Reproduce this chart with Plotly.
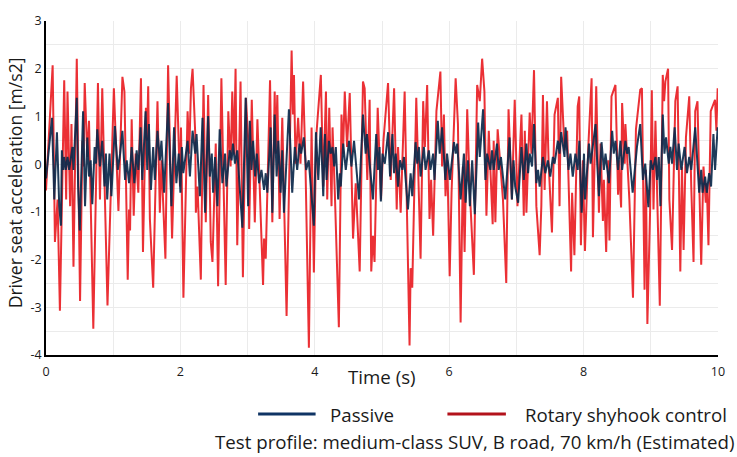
import plotly.graph_objects as go

# ---------------- data ----------------
# Rotary skyhook control: time (s) and driver seat acceleration (m/s2) at turning points
red_t = [0.000, 0.099, 0.133, 0.172, 0.207, 0.271, 0.300, 0.320, 0.359, 0.379, 0.409, 0.458, 0.507,
         0.542, 0.556, 0.576, 0.615, 0.640, 0.704, 0.773, 0.803, 0.837, 0.915, 1.010, 1.078, 1.137,
         1.167, 1.216, 1.236, 1.251, 1.275, 1.305, 1.334, 1.374, 1.413, 1.443, 1.487, 1.502, 1.521,
         1.546, 1.595, 1.659, 1.694, 1.718, 1.777, 1.817, 1.876, 1.945, 1.994, 2.009, 2.045, 2.107,
         2.132, 2.157, 2.181, 2.221, 2.230, 2.255, 2.304, 2.344, 2.378, 2.413, 2.452, 2.477, 2.526,
         2.561, 2.610, 2.674, 2.713, 2.747, 2.772, 2.797, 2.821, 2.846, 2.895, 2.930, 2.974, 3.013,
         3.023, 3.062, 3.107, 3.146, 3.230, 3.245, 3.270, 3.334, 3.368, 3.403, 3.420, 3.442, 3.476,
         3.516, 3.580, 3.655, 3.675, 3.690, 3.713, 3.752, 3.787, 3.826, 3.860, 3.912, 3.952, 3.986,
         4.020, 4.090, 4.126, 4.166, 4.185, 4.215, 4.249, 4.264, 4.298, 4.358, 4.397, 4.420, 4.446,
         4.480, 4.520, 4.569, 4.609, 4.668, 4.717, 4.742, 4.781, 4.816, 4.840, 4.865, 4.889, 4.936,
         4.985, 5.022, 5.090, 5.130, 5.180, 5.219, 5.239, 5.278, 5.337, 5.386, 5.410, 5.426, 5.450,
         5.510, 5.574, 5.613, 5.638, 5.672, 5.707, 5.731, 5.761, 5.810, 5.869, 5.894, 5.921, 5.945,
         5.972, 6.007, 6.035, 6.096, 6.130, 6.170, 6.204, 6.229, 6.268, 6.308, 6.367, 6.416, 6.455,
         6.490, 6.524, 6.554, 6.589, 6.647, 6.662, 6.687, 6.721, 6.800, 6.849, 6.883, 6.933, 6.975,
         7.016, 7.075, 7.110, 7.125, 7.149, 7.198, 7.223, 7.262, 7.297, 7.346, 7.371, 7.395, 7.420,
         7.455, 7.480, 7.529, 7.568, 7.617, 7.642, 7.666, 7.716, 7.755, 7.814, 7.829, 7.863, 7.912,
         7.935, 7.960, 7.989, 8.020, 8.070, 8.119, 8.139, 8.188, 8.228, 8.252, 8.287, 8.302, 8.336,
         8.366, 8.385, 8.415, 8.474, 8.513, 8.523, 8.558, 8.573, 8.612, 8.622, 8.681, 8.735, 8.779,
         8.843, 8.868, 8.892, 8.907, 8.927, 8.949, 8.990, 9.015, 9.040, 9.069, 9.134, 9.178, 9.198,
         9.217, 9.257, 9.276, 9.316, 9.365, 9.399, 9.439, 9.464, 9.488, 9.523, 9.572, 9.602, 9.636,
         9.661, 9.695, 9.720, 9.750, 9.784, 9.818, 9.833, 9.858, 9.892, 9.956, 9.976, 9.995, 10.000]
red_a = [-0.55, 2.07, -1.63, -0.74, -3.07, 1.76, -0.74, 1.52, -0.88, 0.84, -2.15, 2.21, -2.87,
         0.49, -0.05, 1.70, 0.15, 0.91, -3.45, 1.70, -0.74, 1.59, -2.96, 1.59, -0.98, 1.83,
         1.52, -2.42, -0.95, -1.39, 0.94, -1.08, 0.22, -0.60, 1.80, -1.84, 1.18, 0.49, 1.63,
         -1.15, -2.59, 1.32, -1.02, 0.08, -1.98, 2.07, -1.56, 1.85, -0.47, 0.77, -2.80, 1.11,
         0.22, 1.59, 2.00, 0.63, -1.02, -0.47, -2.42, 1.66, -1.22, 1.45, -1.63, -2.05, 0.43,
         -2.56, 1.80, -2.53, 1.11, -0.05, 1.52, 0.22, 2.00, -1.70, 1.73, -2.37, 1.39, 0.43,
         -1.36, 1.35, -1.22, 0.94, -2.53, -1.56, -1.98, 1.76, -1.22, 1.52, 0.22, 1.45, -1.15,
         0.97, -3.18, 2.38, 1.04, 1.87, 0.01, 0.97, 0.01, 1.73, 0.08, -3.85, 0.77, -2.27,
         0.55, 1.87, -0.47, 1.52, -0.74, 1.18, -0.88, 0.77, -0.60, -3.42, 1.04, 0.22, 1.52,
         0.36, 1.49, -1.56, -0.40, -2.25, 1.73, 1.59, -0.33, 1.35, -2.25, -1.50, -2.05, 1.18,
         -0.74, 0.50, 1.70, -0.33, 1.59, -0.95, 0.36, -1.02, 1.52, -2.39, -3.80, -2.18, -2.59,
         1.39, -1.98, 1.32, 0.36, 1.66, -1.15, -0.33, -1.50, 1.11, 1.94, -0.05, 1.04, -0.67,
         0.08, -2.35, -0.60, 1.80, 0.84, -3.32, -0.05, -1.84, 1.15, -0.60, -2.32, 1.66, 1.32,
         2.21, 1.52, -1.08, 0.70, -1.26, 0.49, -1.22, 0.73, -0.74, -2.49, 1.15, -0.74, 1.35,
         -0.88, 1.04, -1.08, 0.70, -1.02, 1.08, 0.22, 1.97, -0.88, -1.91, -0.88, 1.45, -0.54,
         1.32, 0.01, -1.43, 1.04, 1.39, -0.88, 1.83, 0.29, 0.70, -2.25, -0.60, -1.91, 1.21,
         1.42, -1.70, 0.08, -1.82, 0.36, 1.80, -1.53, 1.63, -1.02, 0.43, -1.19, -0.33, -1.84,
         0.08, -1.60, 1.42, 1.66, -0.64, 0.08, -0.91, 1.28, 0.01, 0.84, -0.74, -2.80, 0.73,
         1.56, 1.59, -0.60, -2.63, -0.12, -3.35, -0.95, 1.55, -0.95, 0.91, -2.97, 1.87, 1.32,
         1.73, 2.00, -0.74, -1.80, 1.32, 1.63, -2.25, -0.05, -1.80, 0.56, 1.42, -0.47, -2.05,
         1.11, 1.32, -0.33, -2.11, -0.05, -0.81, -0.40, -1.70, 1.11, 1.35, 0.70, 1.59, 1.20]

# Passive suspension: time (s) and driver seat acceleration (m/s2) at turning points
pas_t = [0.000, 0.089, 0.123, 0.163, 0.197, 0.222, 0.236, 0.256, 0.271, 0.295, 0.320, 0.345, 0.394,
         0.409, 0.458, 0.478, 0.502, 0.552, 0.581, 0.615, 0.640, 0.665, 0.689, 0.724, 0.744, 0.763,
         0.803, 0.837, 0.871, 0.891, 0.911, 0.945, 0.973, 0.999, 1.025, 1.068, 1.103, 1.137, 1.177,
         1.201, 1.236, 1.275, 1.315, 1.349, 1.374, 1.408, 1.433, 1.482, 1.507, 1.531, 1.561, 1.595,
         1.620, 1.659, 1.694, 1.718, 1.758, 1.817, 1.866, 1.906, 1.940, 1.975, 2.000, 2.022, 2.043,
         2.107, 2.142, 2.181, 2.221, 2.240, 2.290, 2.329, 2.368, 2.413, 2.438, 2.467, 2.487, 2.516,
         2.551, 2.585, 2.625, 2.664, 2.684, 2.733, 2.762, 2.782, 2.812, 2.846, 2.922, 2.972, 3.008,
         3.033, 3.057, 3.082, 3.112, 3.137, 3.171, 3.206, 3.245, 3.270, 3.294, 3.343, 3.368, 3.403,
         3.432, 3.457, 3.491, 3.516, 3.541, 3.615, 3.664, 3.703, 3.738, 3.772, 3.797, 3.836, 3.871,
         3.910, 3.986, 4.018, 4.052, 4.087, 4.126, 4.151, 4.175, 4.210, 4.235, 4.264, 4.289, 4.313,
         4.348, 4.372, 4.387, 4.422, 4.461, 4.510, 4.545, 4.584, 4.619, 4.658, 4.717, 4.757, 4.776,
         4.806, 4.865, 4.914, 4.939, 4.963, 4.983, 5.007, 5.042, 5.091, 5.120, 5.155, 5.180, 5.204,
         5.239, 5.268, 5.303, 5.327, 5.386, 5.426, 5.450, 5.500, 5.524, 5.549, 5.574, 5.623, 5.648,
         5.697, 5.721, 5.761, 5.781, 5.830, 5.859, 5.894, 5.943, 5.968, 6.010, 6.071, 6.096, 6.120,
         6.145, 6.170, 6.219, 6.244, 6.278, 6.308, 6.342, 6.381, 6.431, 6.455, 6.504, 6.539, 6.564,
         6.613, 6.637, 6.662, 6.711, 6.736, 6.770, 6.834, 6.898, 6.933, 6.957, 6.982, 7.026, 7.075,
         7.110, 7.149, 7.174, 7.198, 7.233, 7.262, 7.297, 7.322, 7.346, 7.395, 7.430, 7.469, 7.504,
         7.543, 7.568, 7.617, 7.642, 7.666, 7.716, 7.731, 7.775, 7.804, 7.839, 7.878, 7.912, 7.937,
         7.971, 8.006, 8.021, 8.080, 8.104, 8.178, 8.203, 8.228, 8.267, 8.302, 8.326, 8.376, 8.425,
         8.449, 8.474, 8.513, 8.548, 8.573, 8.622, 8.647, 8.671, 8.730, 8.794, 8.843, 8.883, 8.917,
         8.964, 8.998, 9.030, 9.070, 9.094, 9.119, 9.143, 9.178, 9.203, 9.227, 9.267, 9.291, 9.316,
         9.355, 9.390, 9.414, 9.454, 9.503, 9.538, 9.572, 9.602, 9.661, 9.685, 9.720, 9.750, 9.770,
         9.809, 9.833, 9.868, 9.897, 9.932, 9.956, 9.995, 10.000]
pas_a = [-0.30, 0.97, -0.74, 0.67, -0.88, -1.29, 0.29, -0.12, 0.15, -0.12, 0.15, -0.12, 0.36,
         -0.12, 1.39, -0.47, -1.39, 1.11, -0.88, 0.56, -0.26, 0.08, -0.84, 0.36, 0.01, 0.73,
         -0.05, 0.49, -0.47, 0.22, -0.74, 0.22, -0.67, 0.22, 0.80, -0.12, 0.22, 0.70, -0.33,
         0.08, -0.40, 0.36, -0.40, 0.29, -0.12, 0.77, -0.33, 1.11, -0.12, 0.84, -0.54, 0.36,
         -0.33, 0.70, 0.08, 0.49, -0.60, 1.28, -0.88, 0.77, -0.40, 0.22, -0.60, 0.36, -0.19,
         0.49, -0.26, 0.70, 0.22, 0.63, -0.67, 0.97, -1.02, 1.01, -0.26, 0.22, -0.60, 0.15,
         -0.88, 0.73, -0.40, 0.22, -0.47, 0.29, 0.08, 0.43, 0.01, 0.29, -1.33, 1.39, -0.88,
         0.91, -0.12, 0.49, -0.26, 0.22, -0.40, -0.12, -0.54, -0.19, -0.60, 0.77, -1.02, 1.04,
         -0.26, 0.49, -0.60, 0.29, -1.02, 1.15, -0.60, 0.36, -0.12, 0.43, 0.22, 0.56, -0.12,
         0.08, -1.29, 0.67, -0.33, 0.77, -0.67, 0.63, -0.33, 0.49, 0.22, 0.36, -0.05, 0.36,
         -0.74, -0.19, -0.47, 0.43, -0.12, 0.49, -0.05, 0.49, -0.12, -0.74, 1.04, 0.22, 0.63,
         0.22, -0.74, 0.63, -0.12, 0.36, -0.78, 0.22, 0.01, 0.67, -0.26, 0.63, -0.19, 0.22,
         -0.47, 0.08, -0.12, 0.15, -0.95, -0.19, -0.67, 0.46, 0.01, 0.36, -0.26, 0.36, -0.12,
         0.29, -0.12, 0.22, -0.33, 0.91, 0.22, 0.77, -0.33, 0.22, -0.33, 0.46, 0.22, 0.43,
         -0.05, -0.74, 0.22, -0.81, 0.08, -0.88, 0.08, -1.05, 0.87, 0.15, 1.15, -0.33, 0.22,
         -0.12, 0.29, -0.12, 0.43, -0.12, 0.15, -0.74, 0.56, -0.74, 0.08, -0.47, -0.81, 0.36,
         -0.33, 0.43, -0.19, 0.22, -0.05, 0.84, -0.40, -0.12, -0.47, 0.15, -0.19, 0.08, -0.26,
         0.15, 0.01, 0.49, 0.22, 0.67, 0.15, 0.77, -0.12, 0.22, -0.26, 0.22, -0.12, 0.49,
         -1.02, 0.22, -0.74, 0.43, 0.01, 0.84, 0.01, -0.67, 0.46, -0.12, 0.22, -0.40, 0.70,
         0.22, 0.49, -0.12, 0.49, -0.12, 0.49, 0.22, 0.36, -0.60, 0.36, 0.84, -0.33, 0.01,
         -0.90, 0.08, -0.12, 0.15, -0.33, 0.15, -0.88, 1.04, 0.22, 0.56, 0.01, 0.36, 0.01,
         0.77, -0.12, 0.43, -0.12, 0.36, -0.19, 0.15, -0.12, 0.77, 0.22, -0.60, -0.12, -0.60,
         -0.26, -0.60, -0.19, -0.47, 0.63, -0.12, 0.77, 0.60]

series_names = ["Passive", "Rotary shyhook control"]
x_ticks = [0, 2, 4, 6, 8, 10]
y_ticks = [-4, -3, -2, -1, 0, 1, 2, 3]
x_title = "Time (s)"
y_title = "Driver seat acceleration [m/s2]"
caption = "Test profile: medium-class SUV, B road, 70 km/h (Estimated)"

# ---------------- styling ----------------
FONT = "Open Sans, Noto Sans, DejaVu Sans, sans-serif"
TXT = "#1a1a1a"
GRID = "#ebebeb"
PASSIVE_LINE = "#0b2a4c"
RED_LINE = "rgba(232,12,18,0.85)"
PASSIVE_KEY = "#0f3464"
RED_KEY = "#b3121b"
BIG = 18.7

L, R, T, B = 46, 13, 15, 102
W, H = 737, 457
PW, PH = W - L - R, H - T - B


def px(x):
    return (x - L) / PW


def py(y):
    return (T + PH - y) / PH


fig = go.Figure()
fig.add_trace(go.Scatter(x=red_t, y=red_a, mode="lines", name=series_names[1],
                         line=dict(color=RED_LINE, width=2), showlegend=False,
                         hoverinfo="skip"))
fig.add_trace(go.Scatter(x=pas_t, y=pas_a, mode="lines", name=series_names[0],
                         line=dict(color=PASSIVE_LINE, width=2), opacity=0.92,
                         showlegend=False, hoverinfo="skip"))

shapes = [
    # white patch in the top-right corner of the plot area (hides the grid there)
    dict(type="rect", xref="x", yref="y", x0=7.93, x1=10.5, y0=2.03, y1=3.5, layer="below",
         fillcolor="white", line=dict(width=0)),
    # legend keys drawn below the plot
    dict(type="line", xref="paper", yref="paper", x0=px(260), x1=px(318), y0=py(415), y1=py(415),
         line=dict(color=PASSIVE_KEY, width=3)),
    dict(type="line", xref="paper", yref="paper", x0=px(451), x1=px(510), y0=py(415), y1=py(415),
         line=dict(color=RED_KEY, width=3)),
]
annotations = [
    dict(text=series_names[0], xref="paper", yref="paper", x=px(331), y=py(416),
         xanchor="left", yanchor="middle", showarrow=False, font=dict(size=BIG, color=TXT)),
    dict(text=series_names[1], xref="paper", yref="paper", x=px(527), y=py(416),
         xanchor="left", yanchor="middle", showarrow=False, font=dict(size=BIG, color=TXT)),
    dict(text=caption, xref="paper", yref="paper", x=px(478), y=py(457), borderpad=0,
         xanchor="center", yanchor="bottom", showarrow=False, font=dict(size=BIG, color=TXT)),
    dict(text=x_title, xref="paper", yref="paper", x=px(385), y=py(377),
         xanchor="center", yanchor="middle", showarrow=False, font=dict(size=BIG, color=TXT)),
    dict(text=y_title, xref="paper", yref="paper", x=px(15), y=py(180), textangle=-90,
         xanchor="center", yanchor="middle", showarrow=False, font=dict(size=17.6, color=TXT)),
]

fig.update_layout(
    width=W, height=H,
    margin=dict(l=L, r=R, t=T, b=B),
    paper_bgcolor="white", plot_bgcolor="white",
    font=dict(family=FONT, color=TXT, size=12),
    showlegend=False,
    shapes=shapes,
    annotations=annotations,
)
fig.update_xaxes(range=[0, 10], tickmode="array", tickvals=x_ticks,
                 ticktext=[str(v) for v in x_ticks], showgrid=True, gridcolor=GRID, gridwidth=1,
                 minor=dict(dtick=1, tick0=0, showgrid=True, gridcolor=GRID, gridwidth=1),
                 showline=True, linecolor="black", linewidth=1.5, zeroline=False,
                 ticks="outside", ticklen=4, tickcolor="rgba(0,0,0,0)",
                 tickfont=dict(size=12.5, color=TXT))
fig.update_yaxes(range=[-4, 3], tickmode="array", tickvals=y_ticks,
                 ticktext=[str(v) for v in y_ticks], showgrid=True, gridcolor=GRID, gridwidth=1,
                 minor=dict(dtick=0.5, tick0=0, showgrid=True, gridcolor=GRID, gridwidth=1),
                 showline=True, linecolor="black", linewidth=1.5, zeroline=False,
                 ticks="", tickfont=dict(size=12.5, color=TXT))

fig.write_html("out.html", config={"displayModeBar": False},
               post_script="document.body.style.margin='0';")
